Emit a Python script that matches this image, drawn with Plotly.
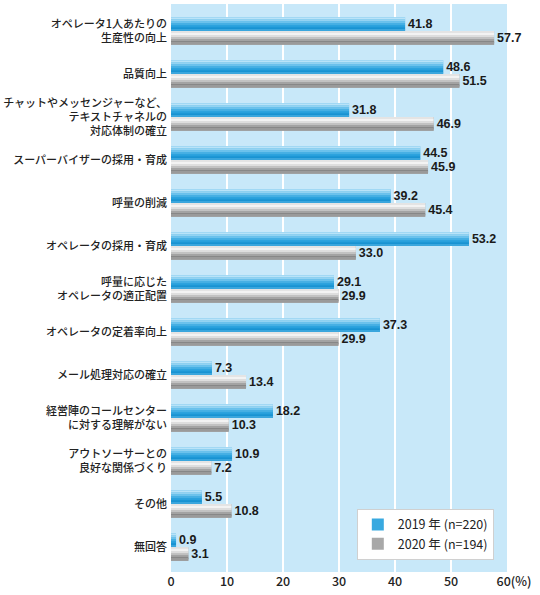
import plotly.graph_objects as go

categories = [
    "オペレータ1人あたりの<br>生産性の向上",
    "品質向上",
    "チャットやメッセンジャーなど、<br>テキストチャネルの<br>対応体制の確立",
    "スーパーバイザーの採用・育成",
    "呼量の削減",
    "オペレータの採用・育成",
    "呼量に応じた<br>オペレータの適正配置",
    "オペレータの定着率向上",
    "メール処理対応の確立",
    "経営陣のコールセンター<br>に対する理解がない",
    "アウトソーサーとの<br>良好な関係づくり",
    "その他",
    "無回答",
]
values_2019 = [41.8, 48.6, 31.8, 44.5, 39.2, 53.2, 29.1, 37.3, 7.3, 18.2, 10.9, 5.5, 0.9]
values_2020 = [57.7, 51.5, 46.9, 45.9, 45.4, 33.0, 29.9, 29.9, 13.4, 10.3, 7.2, 10.8, 3.1]
series_names = ["2019 年 (n=220)", "2020 年 (n=194)"]
tick_vals = [0, 10, 20, 30, 40, 50, 60]
tick_text = ["0", "10", "20", "30", "40", "50", "\u00a0\u00a0\u00a0\u00a0\u00a060(%)"]

# gradient stripes, top to bottom
blue_grad = ["#b9e3f8", "#94d3f2", "#6cc2ec", "#45afe3", "#28a0dc", "#1893d2", "#3aa6dd"]
gray_grad = ["#e4e4e4", "#f3f3f3", "#dedede", "#c2c2c2", "#a3a3a3", "#878787", "#9a9a9a"]
blue_mid = "#38a9e0"
gray_mid = "#a8a8a8"

BW = 0.32  # bar thickness (category units)
label_font = dict(family="Liberation Sans Narrow, Liberation Sans, sans-serif",
                  size=12.5, color="#1a1a1a")

fig = go.Figure()

specs = [
    (values_2019, series_names[0], blue_grad, blue_mid, -BW),
    (values_2020, series_names[1], gray_grad, gray_mid, 0.0),
]

# base bars (legend entries)
for vals, name, grad, mid, off in specs:
    fig.add_trace(go.Bar(
        x=vals, y=categories, orientation="h", name=name,
        marker=dict(color=mid, line=dict(width=0)),
        width=BW, offset=off, showlegend=True, hoverinfo="skip",
    ))

# gradient stripes
for vals, name, grad, mid, off in specs:
    n = len(grad)
    sw = BW / n
    for k, c in enumerate(grad):
        fig.add_trace(go.Bar(
            x=vals, y=categories, orientation="h",
            marker=dict(color=c, line=dict(width=0)),
            width=sw * 1.15 if k < n - 1 else sw, offset=off + k * sw,
            showlegend=False, hoverinfo="skip",
        ))

# value labels
for vals, name, grad, mid, off in specs:
    fig.add_trace(go.Bar(
        x=vals, y=categories, orientation="h",
        marker=dict(color="rgba(0,0,0,0)", line=dict(width=0)),
        width=BW, offset=off, showlegend=False,
        texttemplate="<b>%{x:.1f}</b>", textposition="outside",
        textfont=label_font, cliponaxis=False, constraintext="none",
        name=name,
    ))

fig.update_layout(
    width=540, height=595,
    margin=dict(l=171, r=33, t=4, b=23, autoexpand=False),
    barmode="overlay",
    paper_bgcolor="white",
    plot_bgcolor="#c8e8f9",
    font=dict(family="Noto Sans CJK JP, sans-serif", size=11, color="#222222"),
    showlegend=True,
    legend=dict(
        x=0.553, y=0.111, xanchor="left", yanchor="top",
        bgcolor="white", bordercolor="#d0d0d0", borderwidth=1,
        font=dict(size=12.5, color="#222222"),
        traceorder="normal", itemwidth=30,
    ),
    xaxis=dict(
        range=[0, 60], tickvals=tick_vals, ticktext=tick_text,
        showgrid=True, gridcolor="white", gridwidth=1.5,
        zeroline=False, showline=False, ticks="", automargin=False,
        tickfont=dict(family="Noto Sans CJK JP, sans-serif", size=12.5, color="#222222", weight=500),
        fixedrange=True,
    ),
    yaxis=dict(
        type="category", range=[12.58, -0.63], autorange=False,
        showgrid=False, zeroline=False, showline=False, ticks="",
        ticklabelstandoff=3, automargin=False,
        tickfont=dict(size=11, color="#222222", weight=500),
        fixedrange=True,
    ),
)

fig.write_html("out.html", config={"displayModeBar": False},
               post_script="document.body.style.margin='0';")
